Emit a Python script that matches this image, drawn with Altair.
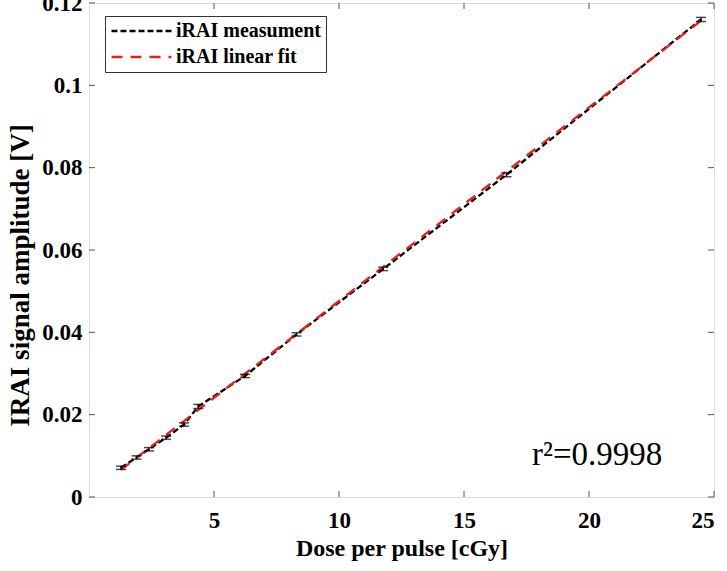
import altair as alt
import pandas as pd

# ---- data ----
dose = [1.28, 1.90, 2.40, 3.08, 3.80, 4.37, 6.24, 8.30, 11.77, 16.70, 24.48]
amplitude = [0.0071, 0.0096, 0.0116, 0.0144, 0.0176, 0.0220, 0.0294, 0.0395, 0.0554, 0.0783, 0.1160]
amp_err = [0.0004, 0.0004, 0.0004, 0.0004, 0.0004, 0.0005, 0.0004, 0.0004, 0.0004, 0.0005, 0.0005]

fit_dose = [1.28, 24.48]
fit_amp = [0.0066, 0.1157]

x_ticks = [5, 10, 15, 20, 25]
y_ticks = [0, 0.02, 0.04, 0.06, 0.08, 0.1, 0.12]

series_names = ["iRAI measument", "iRAI linear fit"]
r2_label = "r\u00b2=0.9998"

W, H = 625, 494
FONT = "Liberation Serif"
AX = "#555555"

meas = pd.DataFrame({"dose": dose, "amp": amplitude, "series": series_names[0]})
fit = pd.DataFrame({"dose": fit_dose, "amp": fit_amp, "series": series_names[1]})
lines = pd.concat([meas, fit], ignore_index=True)
lines["order"] = range(len(lines))

err = pd.DataFrame({
    "dose": dose,
    "lo": [a - e for a, e in zip(amplitude, amp_err)],
    "hi": [a + e for a, e in zip(amplitude, amp_err)],
})

xs = alt.Scale(domain=[0, 25], nice=False, zero=False)
ys = alt.Scale(domain=[0, 0.12], nice=False, zero=False)

x_axis = alt.Axis(values=x_ticks, title="Dose per pulse [cGy]", tickSize=0, grid=False,
                  labelFont=FONT, labelFontWeight="bold", labelFontSize=23, labelColor="black",
                  labelPadding=12, titleFont=FONT, titleFontWeight="bold", titleFontSize=24,
                  titleColor="black", titlePadding=4, domain=False)
y_axis = alt.Axis(values=y_ticks, title="IRAI signal amplitude [V]", tickSize=0, grid=False,
                  format="~g", labelFont=FONT, labelFontWeight="bold", labelFontSize=23,
                  labelColor="black", labelPadding=7, titleFont=FONT, titleFontWeight="bold",
                  titleFontSize=27, titleColor="black", titleX=-55, titleY=272,
                  titleBaseline="bottom", domain=False)

line_layer = alt.Chart(lines).mark_line(strokeWidth=2.3).encode(
    x=alt.X("dose:Q", scale=xs, axis=x_axis),
    y=alt.Y("amp:Q", scale=ys, axis=y_axis),
    order="order:Q",
    color=alt.Color("series:N",
                    scale=alt.Scale(domain=series_names, range=["black", "#e8201c"]),
                    legend=alt.Legend(title=None, orient="none", legendX=16, legendY=13,
                                      symbolType="stroke", symbolSize=3600, symbolStrokeWidth=2.3,
                                      clipHeight=20,
                                      labelFont=FONT, labelFontWeight="bold", labelFontSize=20,
                                      labelColor="black", strokeColor="#333333", fillColor="white",
                                      padding=5, rowPadding=6, symbolOffset=0, labelOffset=3)),
    strokeDash=alt.StrokeDash("series:N",
                              scale=alt.Scale(domain=series_names, range=[[6, 3], [11, 8]]),
                              legend=None),
)

bars = alt.Chart(err).mark_rule(color="black", strokeWidth=1.5).encode(
    x=alt.X("dose:Q", scale=xs), y=alt.Y("lo:Q", scale=ys), y2="hi:Q")
cap_lo = alt.Chart(err).mark_tick(color="black", thickness=1.5, size=10, orient="horizontal").encode(
    x=alt.X("dose:Q", scale=xs), y=alt.Y("lo:Q", scale=ys))
cap_hi = alt.Chart(err).mark_tick(color="black", thickness=1.5, size=10, orient="horizontal").encode(
    x=alt.X("dose:Q", scale=xs), y=alt.Y("hi:Q", scale=ys))

xt = pd.DataFrame({"v": x_ticks})
yt = pd.DataFrame({"v": y_ticks})
tk = 6
tick_b = alt.Chart(xt).mark_rule(color=AX).encode(x=alt.X("v:Q", scale=xs), y=alt.value(H), y2=alt.value(H - tk))
tick_t = alt.Chart(xt).mark_rule(color=AX).encode(x=alt.X("v:Q", scale=xs), y=alt.value(0), y2=alt.value(tk))
tick_l = alt.Chart(yt).mark_rule(color=AX).encode(y=alt.Y("v:Q", scale=ys), x=alt.value(0), x2=alt.value(tk))
tick_r = alt.Chart(yt).mark_rule(color=AX).encode(y=alt.Y("v:Q", scale=ys), x=alt.value(W), x2=alt.value(W - tk))

r2 = alt.Chart(pd.DataFrame({"t": [r2_label]})).mark_text(
    font=FONT, fontSize=33, align="left", baseline="alphabetic", color="black"
).encode(text="t:N", x=alt.value(443), y=alt.value(462))

chart = alt.layer(line_layer, bars, cap_lo, cap_hi, tick_b, tick_t, tick_l, tick_r, r2).properties(
    width=W, height=H,
    autosize=alt.AutoSizeParams(type="none"),
    padding={"left": 89, "top": 3, "right": 13, "bottom": 74},
).configure_view(stroke=AX, strokeWidth=1.2).configure(background="white")

chart.save("out.html", embed_options={"renderer": "svg", "actions": False})
